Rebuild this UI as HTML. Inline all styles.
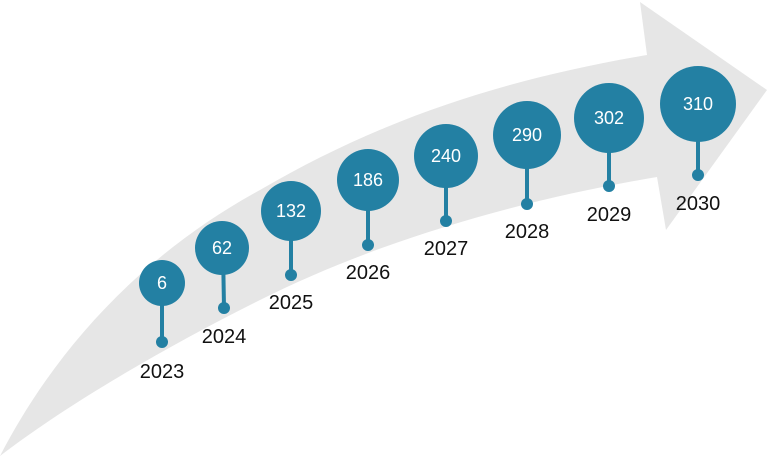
<!DOCTYPE html>
<html><head><style>
html,body{margin:0;padding:0;background:#fff;}
svg{display:block;}
text{font-family:"Liberation Sans",sans-serif;}
</style></head><body>
<svg width="768" height="457" viewBox="0 0 768 457" xmlns="http://www.w3.org/2000/svg">
<path d="M0,456 C60,340 150,250 260,190 C380,120 500,80 647,55 L640,2 L767,90 L666,230 L657,177 C520,200 380,240 260,300 C150,355 60,410 0,456 Z" fill="#e6e6e6"/>
<g fill="#2380a3" stroke="#2380a3">
<line x1="162" y1="283" x2="162" y2="342" stroke-width="4"/><circle cx="162" cy="342" r="6" stroke="none"/><circle cx="162" cy="283" r="23" stroke="none"/>
<line x1="223" y1="249" x2="224" y2="308" stroke-width="4"/><circle cx="224" cy="308" r="6" stroke="none"/><circle cx="222" cy="248" r="27" stroke="none"/>
<line x1="291" y1="212" x2="291" y2="275" stroke-width="4"/><circle cx="291" cy="275" r="6" stroke="none"/><circle cx="291" cy="211" r="30" stroke="none"/>
<line x1="368" y1="181" x2="368" y2="245" stroke-width="4"/><circle cx="368" cy="245" r="6" stroke="none"/><circle cx="368" cy="180" r="31" stroke="none"/>
<line x1="446" y1="157" x2="446" y2="221" stroke-width="4"/><circle cx="446" cy="221" r="6" stroke="none"/><circle cx="446" cy="156" r="32" stroke="none"/>
<line x1="527" y1="134" x2="527" y2="204" stroke-width="4"/><circle cx="527" cy="204" r="6" stroke="none"/><circle cx="527" cy="135" r="34" stroke="none"/>
<line x1="609" y1="118" x2="609" y2="186" stroke-width="4"/><circle cx="609" cy="186" r="6" stroke="none"/><circle cx="609" cy="118" r="35" stroke="none"/>
<line x1="698" y1="104" x2="698" y2="175" stroke-width="4"/><circle cx="698" cy="175" r="6" stroke="none"/><circle cx="698" cy="104" r="38" stroke="none"/>
</g>
<g fill="#fff" font-size="18" text-anchor="middle">
<text x="162" y="289">6</text>
<text x="222" y="254">62</text>
<text x="291" y="217">132</text>
<text x="368" y="186">186</text>
<text x="446" y="162">240</text>
<text x="527" y="141">290</text>
<text x="609" y="124">302</text>
<text x="698" y="110">310</text>
</g>
<g fill="#111" font-size="20" text-anchor="middle">
<text x="162" y="378">2023</text>
<text x="224" y="343">2024</text>
<text x="291" y="309">2025</text>
<text x="368" y="279">2026</text>
<text x="446" y="255">2027</text>
<text x="527" y="238">2028</text>
<text x="609" y="221">2029</text>
<text x="698" y="210">2030</text>
</g>
</svg>
</body></html>
